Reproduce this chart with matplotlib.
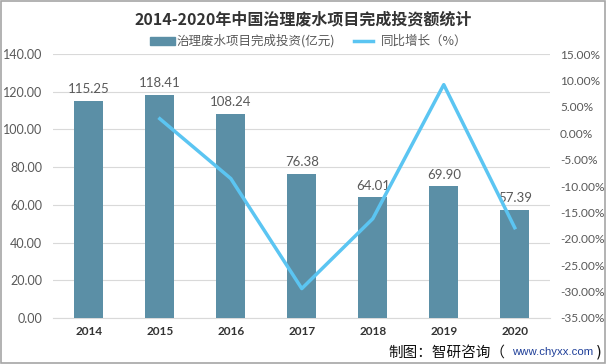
import matplotlib
matplotlib.use('Agg')
import matplotlib.pyplot as plt
from matplotlib.patches import Rectangle
from matplotlib.ticker import FuncFormatter

plt.rcParams['font.family'] = ['Noto Sans CJK SC', 'DejaVu Sans']

years = ['2014', '2015', '2016', '2017', '2018', '2019', '2020']
invest = [115.25, 118.41, 108.24, 76.38, 64.01, 69.90, 57.39]
growth_years = ['2015', '2016', '2017', '2018', '2019', '2020']
growth = [2.74, -8.59, -29.43, -16.19, 9.20, -17.90]

bar_color = '#5B8FA6'
line_color = '#5BC5F2'
grey = '#595959'

fig = plt.figure(figsize=(6.06, 3.64), dpi=100)
ax = fig.add_axes([0.088, 0.1264, 0.82, 0.7252])

x = list(range(len(years)))
ax.bar(x, invest, width=0.41, color=bar_color, zorder=3)
for xi, v in zip(x, invest):
    ax.text(xi, v + 3, f'{v:.2f}', ha='center', va='bottom', fontsize=9.5, color=grey,
            family='Lato')

ax.set_xlim(-0.5, len(years) - 0.5)
ax.set_ylim(0, 140)
ax.set_yticks(range(0, 141, 20))
ax.yaxis.set_major_formatter(FuncFormatter(lambda v, p: f'{v:.2f}'))
ax.set_xticks(x)
ax.set_xticklabels(years, fontweight='bold', fontsize=8.5, color='#333333', family='Lato')
ax.grid(axis='y', color='#D9D9D9', linewidth=0.8, zorder=0)
ax.tick_params(axis='y', length=0, labelsize=9, labelcolor=grey, pad=8, labelfontfamily='Lato')
ax.tick_params(axis='x', length=0, pad=6)
for s in ['top', 'right', 'left']:
    ax.spines[s].set_visible(False)
ax.spines['bottom'].set_color('#D9D9D9')

ax2 = ax.twinx()
gx = [years.index(y) for y in growth_years]
ax2.plot(gx, growth, color=line_color, linewidth=2.5, zorder=4)
ax2.set_ylim(-35, 15)
ax2.set_yticks(range(-35, 16, 5))
ax2.yaxis.set_major_formatter(FuncFormatter(lambda v, p: f'{v:.2f}%'))
ax2.tick_params(axis='y', length=0, labelsize=8.6, labelcolor=grey, pad=7, labelfontfamily='Lato')
for s in ax2.spines.values():
    s.set_visible(False)

fig.text(0.5, 0.948, '2014-2020年中国治理废水项目完成投资额统计', ha='center', va='center',
         fontsize=11.5, fontweight='bold', color='#333333')

# legend
fig.patches.append(Rectangle((0.248, 0.877), 0.041, 0.022, transform=fig.transFigure,
                             color=bar_color))
fig.text(0.292, 0.888, '治理废水项目完成投资(亿元)', ha='left', va='center', fontsize=9, color=grey)
fig.lines.append(plt.Line2D([0.584, 0.616], [0.888, 0.888], transform=fig.transFigure,
                            color=line_color, linewidth=2.5))
fig.text(0.628, 0.888, '同比增长（%）', ha='left', va='center', fontsize=9, color=grey)

# source note, pieces placed one after another
W = 606.0
t1 = fig.text(388 / W, 0.032, '制图：智研咨询（', ha='left', va='center', fontsize=10.5,
              color='#111111')
t2 = fig.text(512 / W, 0.032, 'www.chyxx.com', ha='left', va='center', fontsize=8.2,
              color='#1F3F99', family='Liberation Sans')
fig.canvas.draw()
end2 = t2.get_window_extent().x1
fig.text(end2 / W + 0.004, 0.032, ')', ha='left', va='center', fontsize=10.5, color='#111111',
         family='DejaVu Sans')

fig.patches.append(Rectangle((0.001, 0.002), 0.997, 0.995, transform=fig.transFigure,
                             fill=False, edgecolor='#A6A6A6', linewidth=1.2))

fig.savefig('out.png', dpi=100)
